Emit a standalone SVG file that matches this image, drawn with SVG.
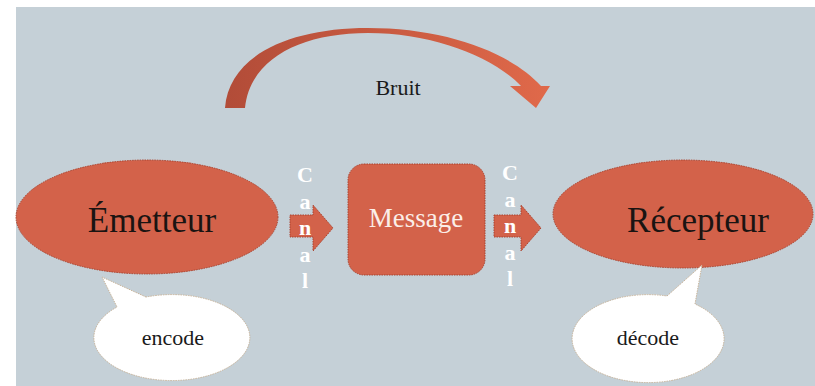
<svg xmlns="http://www.w3.org/2000/svg" width="815" height="386" viewBox="0 0 815 386">
  <defs>
    <linearGradient id="arcGrad" x1="225" y1="0" x2="550" y2="0" gradientUnits="userSpaceOnUse">
      <stop offset="0" stop-color="#b24c38"/>
      <stop offset="1" stop-color="#e0694a"/>
    </linearGradient>
    <style>
      .shape { fill: #d3624a; stroke: #a9432f; stroke-width: 1; stroke-dasharray: 1.5 1; }
      .bubble { fill: #ffffff; stroke: #c9b49a; stroke-width: 1; stroke-dasharray: 1.5 1; }
      .big { font-family: "Liberation Serif", "Times New Roman", serif; font-size: 35px; fill: #1a1412; text-anchor: middle; }
      .msg { font-family: "Liberation Serif", "Times New Roman", serif; font-size: 27px; fill: #fbeee8; text-anchor: middle; }
      .small { font-family: "Liberation Serif", "Times New Roman", serif; font-size: 22px; fill: #1a1a1a; text-anchor: middle; }
      .canal { font-family: "Liberation Serif", "Times New Roman", serif; font-size: 22px; font-weight: bold; fill: #ffffff; text-anchor: middle; }
      .arrow { fill: #d3624a; stroke: #a9432f; stroke-width: 1; stroke-dasharray: 1.5 1; }
    </style>
  </defs>

  <rect x="16" y="7" width="799" height="379" fill="#c5d0d7"/>

  <g id="connectors">
    <path id="bruit-arc" d="M 225,108 C 229,55 290,28 368,28 C 445,28 510,52 541,86 L 550,86 L 536,108 L 510,86 L 521,86 C 492,56 432,33 368,33 C 302,33 250,58 245,108 Z" fill="url(#arcGrad)"/>
    <path id="canal-arrow-1" class="arrow" d="M 290,215 L 313,215 L 313,205 L 333,228 L 313,251 L 313,237 L 290,237 Z"/>
    <path id="canal-arrow-2" class="arrow" d="M 494,215 L 521,215 L 521,205 L 541,228 L 521,251 L 521,237 L 494,237 Z"/>
  </g>

  <g id="bruit-label">
    <text class="small" x="398" y="95" font-size="21">Bruit</text>
  </g>

  <g id="canal-label-1">
    <text class="canal" x="305" y="182">C</text>
    <text class="canal" x="305" y="209">a</text>
    <text class="canal" x="305" y="235">n</text>
    <text class="canal" x="305" y="262">a</text>
    <text class="canal" x="305" y="288">l</text>
  </g>

  <g id="canal-label-2">
    <text class="canal" x="510" y="180">C</text>
    <text class="canal" x="510" y="207">a</text>
    <text class="canal" x="510" y="233">n</text>
    <text class="canal" x="510" y="260">a</text>
    <text class="canal" x="510" y="286">l</text>
  </g>

  <g id="emetteur">
    <ellipse class="shape" cx="147" cy="217" rx="131" ry="57"/>
    <text class="big" x="152" y="232">Émetteur</text>
  </g>

  <g id="message">
    <rect class="shape" x="348" y="164" width="137" height="111" rx="16" ry="16"/>
    <text class="msg" x="416" y="227">Message</text>
  </g>

  <g id="recepteur">
    <ellipse class="shape" cx="683" cy="214" rx="130" ry="54"/>
    <text class="big" x="698" y="232">Récepteur</text>
  </g>

  <g id="encode">
    <path class="bubble" d="M 146,297 L 102,277 L 117,307 A 78 43 0 1 0 146,297 Z"/>
    <text class="small" x="173" y="345">encode</text>
  </g>

  <g id="decode">
    <path class="bubble" d="M 667,296 L 702,265 L 695,304 A 76 44 0 1 1 667,296 Z"/>
    <text class="small" x="648" y="345">décode</text>
  </g>
</svg>
